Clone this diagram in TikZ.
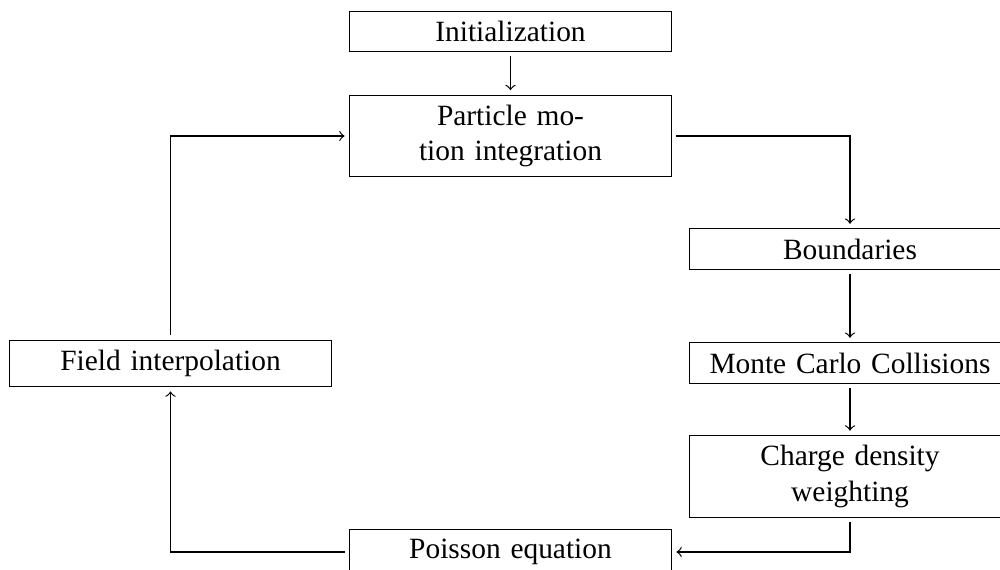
\documentclass[tikz,border=0pt]{standalone}
\usepackage{fontspec}
\setmainfont{Liberation Serif}
\begin{document}
\begin{tikzpicture}[x=0.3401pt,y=-0.3401pt,
  box/.style={draw, line width=0.4pt, text width=102.8pt, align=center, inner sep=3.33pt},
  arr/.style={->, line width=0.4pt, shorten <=1.5pt, shorten >=1.5pt}]
\useasboundingbox (0,0) rectangle (1000,570);
\node[box] (init) at (510.5,31.3) {Initialization};
\node[box] (part) at (510.5,136) {Particle mo-\\tion integration};
\node[box] (bound) at (850,249) {Boundaries};
\node[box] (mcc) at (850,363) {Monte Carlo Collisions};
\node[box] (charge) at (850,476.5) {Charge density\\weighting};
\node[box] (poisson) at (510.5,552) {Poisson equation};
\node[box] (field) at (170.5,363.3) {Field interpolation};
\draw[arr] (init) -- (part);
\draw[arr] (part.east) -| (bound.north);
\draw[arr] (bound) -- (mcc);
\draw[arr] (mcc) -- (charge);
\draw[arr] (charge.south) |- (poisson.east);
\draw[arr] (poisson.west) -| (field.south);
\draw[arr] (field.north) |- (part.west);
\end{tikzpicture}
\end{document}
